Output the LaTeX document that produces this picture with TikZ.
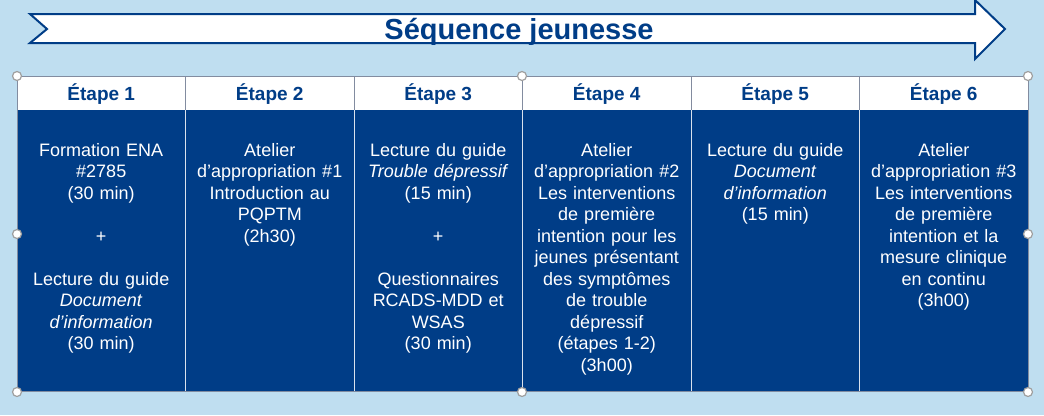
\documentclass[tikz,border=0pt]{standalone}
\usepackage{fontspec}
\setmainfont{Liberation Sans}
\usetikzlibrary{positioning}
\definecolor{navy}{RGB}{0,61,135}
\definecolor{skyback}{RGB}{191,222,240}
\definecolor{rulegray}{RGB}{130,140,160}
\tikzset{
	titletext/.style={anchor=base, text=navy, font=\fontsize{29}{34}\selectfont\bfseries},
	headtext/.style={anchor=base, text=navy, font=\fontsize{19}{22}\selectfont\bfseries},
	celltext/.style={anchor=north, text=white, text width=166pt, align=center, inner sep=0pt, font=\fontsize{18}{21.5}\selectfont},
	handle/.style={circle, draw=gray!75, fill=white, minimum size=9pt, inner sep=0pt, line width=1.2pt}
}

\begin{document}
\begin{tikzpicture}[x=1pt,y=-1pt]
	\useasboundingbox (0,0) rectangle (1044,415);
	\fill[skyback] (0,0) rectangle (1044,415);
	% arrow
	\draw[navy, line width=2pt, fill=white, line join=miter]
	(30,14) -- (975,14) -- (975,0) -- (1005,29) -- (975,59) -- (975,43) -- (30,43) -- (47,29) -- cycle;
	\node[titletext] (title) at (519,39) {Séquence jeunesse};
	% table
	\fill[white] (17,76) rectangle (1028,110);
	\fill[navy] (17,110) rectangle (1028,391);
	\foreach \i in {1,...,5}
	{
		\draw[rulegray, line width=0.8pt] (17+168.5*\i,76) -- (17+168.5*\i,110);
		\draw[white!85!navy, line width=1pt] (17+168.5*\i,110) -- (17+168.5*\i,391);
	}
	\draw[rulegray, line width=0.8pt] (17,76) rectangle (1028,391);
	\foreach \i in {1,...,6}
	\node[headtext] (h\i) at (17+168.5*\i-84.25,100) {Étape \i};
	\node[celltext] (b1) at (101.25,141) {\strut Formation ENA\\ \#2785\\ (30 min)\\ \strut\\ +\\ \strut\\ Lecture du guide\\ \textit{Document}\\ \textit{d’information}\\ (30 min)};
	\node[celltext] (b2) at (269.75,141) {\strut Atelier\\ d’appropriation \#1\\ Introduction au\\ PQPTM\\ (2h30)};
	\node[celltext] (b3) at (438.25,141) {\strut Lecture du guide\\ \textit{Trouble dépressif}\\ (15 min)\\ \strut\\ +\\ \strut\\ Questionnaires\\ RCADS-MDD et\\ WSAS\\ (30 min)};
	\node[celltext] (b4) at (606.75,141) {\strut Atelier\\ d’appropriation \#2\\ Les interventions\\ de première\\ intention pour les\\ jeunes présentant\\ des symptômes\\ de trouble\\ dépressif\\ (étapes 1-2)\\ (3h00)};
	\node[celltext] (b5) at (775.25,141) {\strut Lecture du guide\\ \textit{Document}\\ \textit{d’information}\\ (15 min)};
	\node[celltext] (b6) at (943.75,141) {\strut Atelier\\ d’appropriation \#3\\ Les interventions\\ de première\\ intention et la\\ mesure clinique\\ en continu\\ (3h00)};
	% selection handles
	\foreach \x/\y [count=\k] in {17/76, 522/76, 1028/76, 17/234, 1028/234, 17/392, 522/392, 1028/392}
	\node[handle] (s\k) at (\x,\y) {};
\end{tikzpicture}
\end{document}
